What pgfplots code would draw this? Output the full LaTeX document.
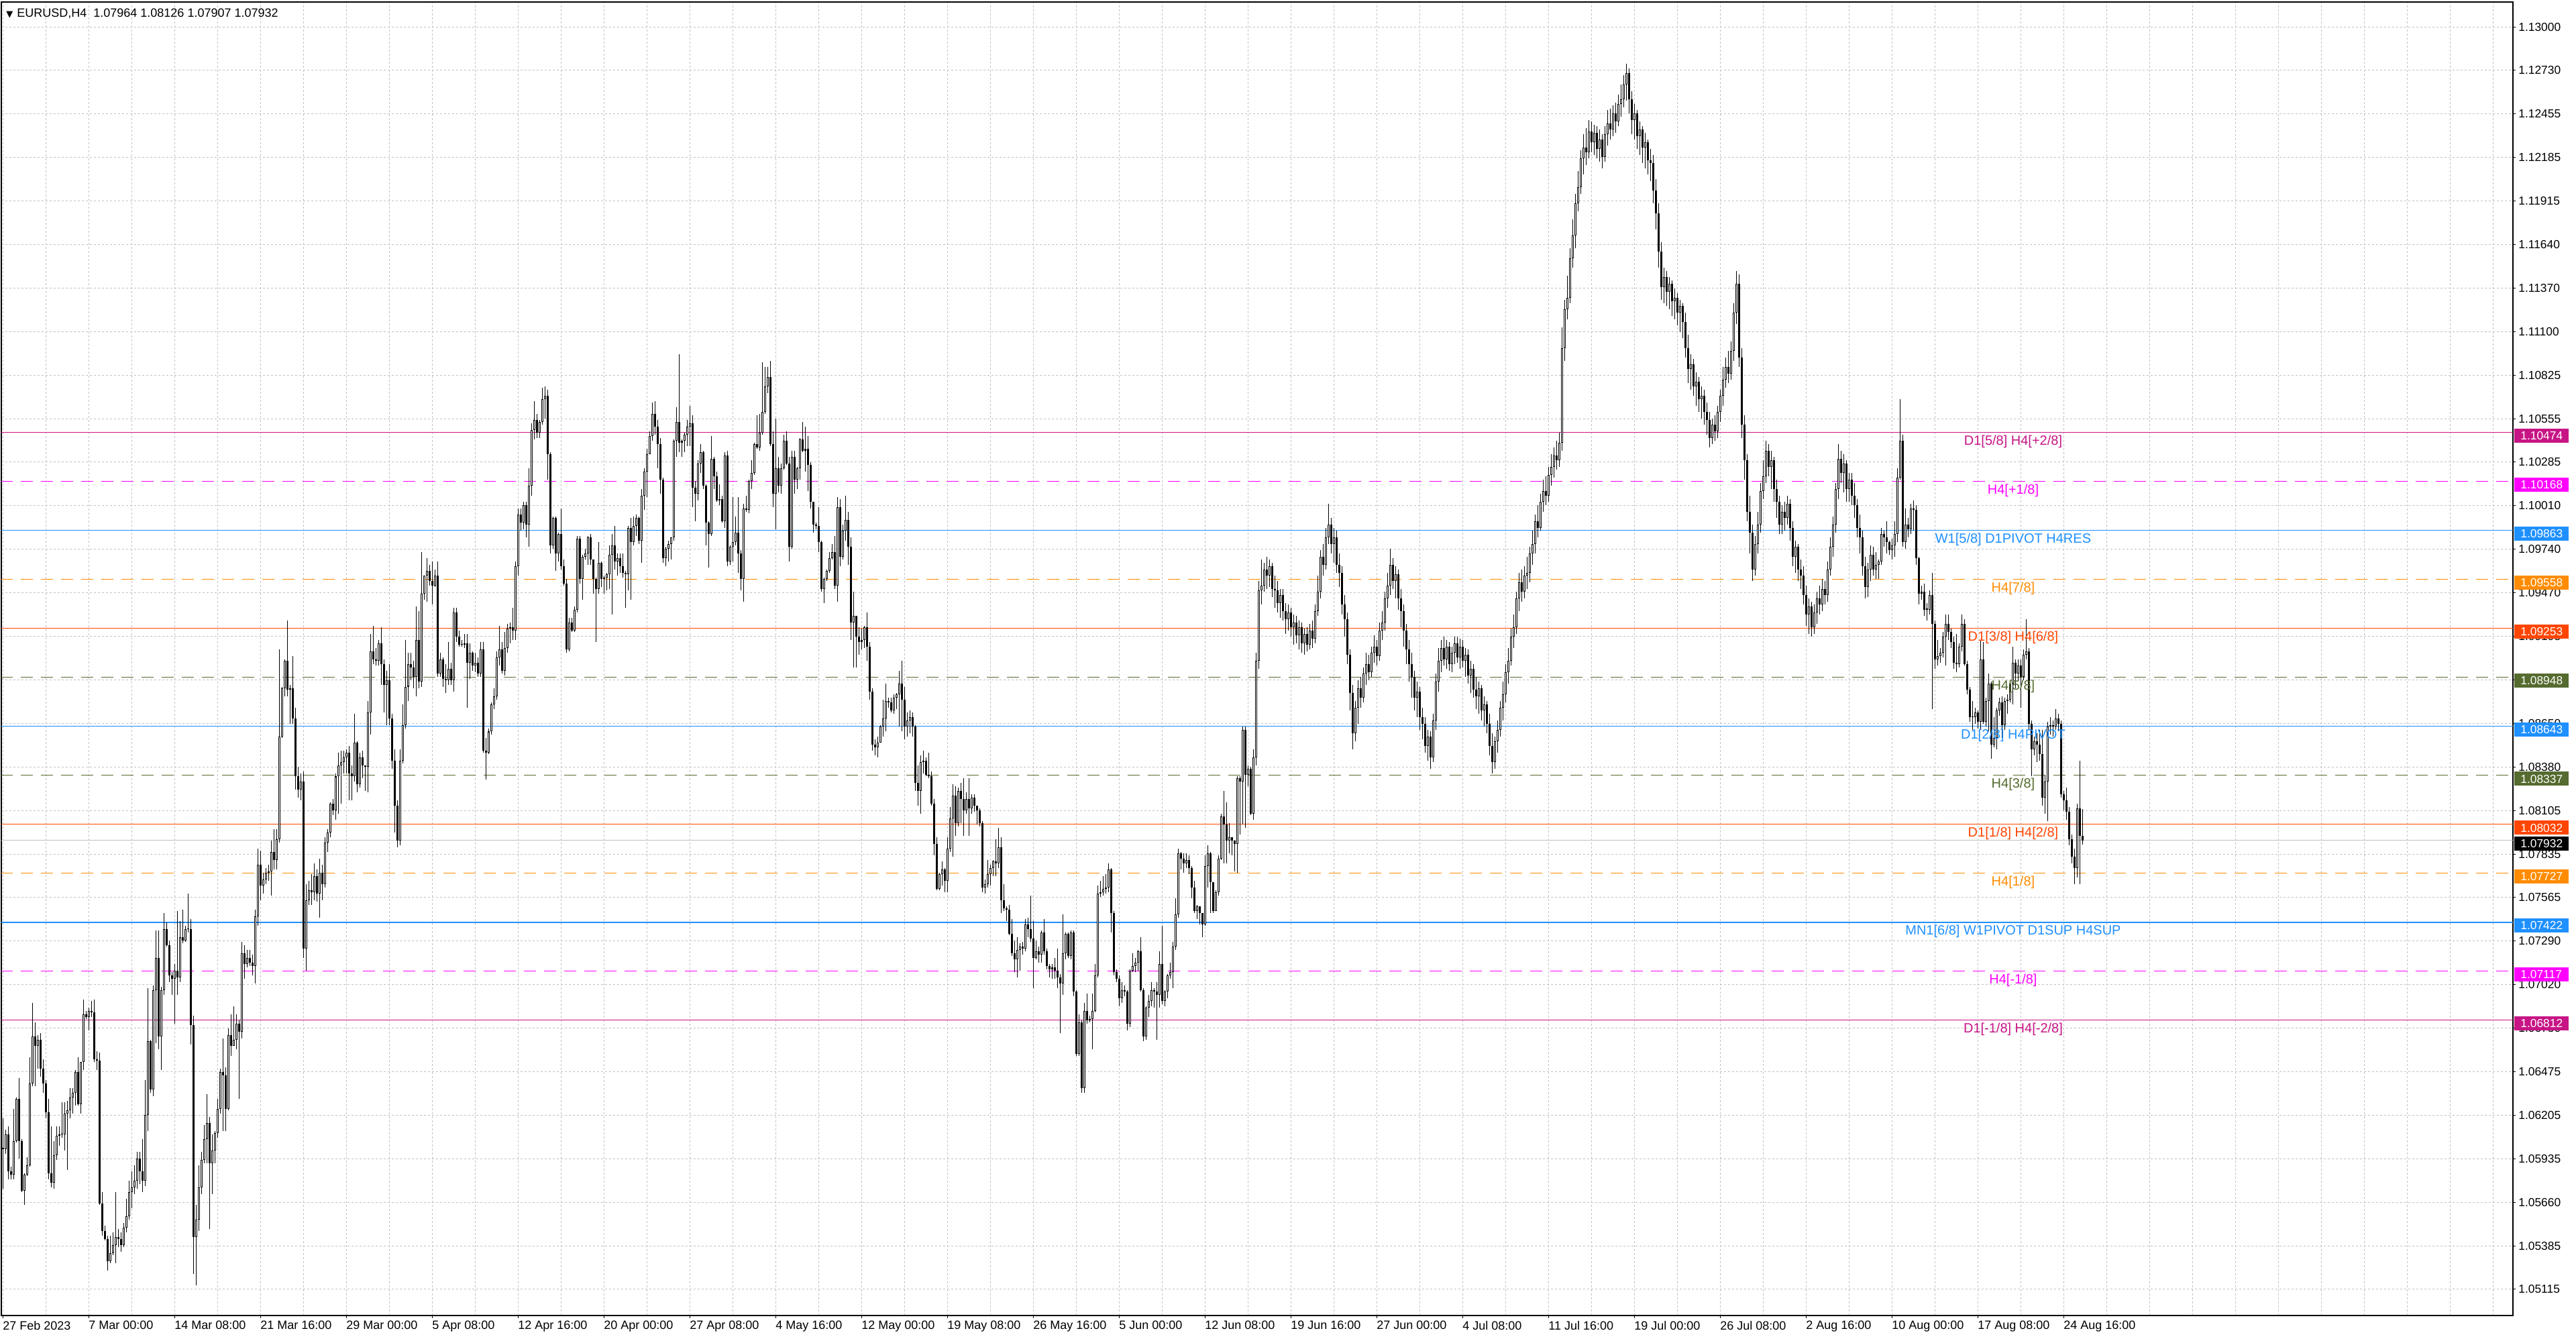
\documentclass[border=0pt]{standalone}
\usepackage{pgfplots}
\usepackage{pgfplotstable}
\pgfplotsset{compat=1.18}
\usepackage{fontspec}
\setmainfont{Liberation Sans}
\newfontfamily\dejavu{DejaVu Sans}
\definecolor{mvr}{HTML}{C71585}
\definecolor{mag}{HTML}{FF00FF}
\definecolor{dblue}{HTML}{1E90FF}
\definecolor{dorange}{HTML}{FF8C00}
\definecolor{ored}{HTML}{FF4500}
\definecolor{olivec}{HTML}{556B2F}
\definecolor{gridc}{HTML}{C0C0C0}
% prices in pips above 1.0000 (e.g. 793.2 = 1.07932); open = previous close
\pgfplotstableread{
c h l
601 620 576
610 613 598
587 615 582
585 590 582
606 626 582
632 633 605
606 645 595
575 607 574
585 586 566
591 596 584
642 658 590
671 692 640
665 680 640
669 672 651
651 673 646
642 657 636
624 644 620
586 632 582
580 615 577
597 606 576
609 615 594
610 615 603
610 630 608
623 630 600
625 631 588
633 639 620
636 639 623
649 650 628
629 658 628
655 655 623
685 694 650
683 687 682
687 689 675
686 693 683
657 694 655
656 662 650
567 661 566
550 574 547
545 553 544
531 547 525
536 547 530
541 549 535
546 574 530
545 551 540
541 549 537
552 555 540
559 570 549
574 581 557
577 587 564
581 591 573
595 599 576
587 599 579
581 607 574
622 644 578
668 701 612
638 669 636
700 703 634
720 737 667
671 737 663
700 702 650
738 748 697
728 742 727
709 731 705
707 711 697
712 716 679
708 749 697
733 743 705
731 750 729
738 740 730
738 760 736
678 744 666
546 684 523
557 566 516
577 591 550
594 599 573
607 616 592
617 635 592
592 621 551
600 610 573
611 612 592
626 632 608
649 651 623
647 670 612
626 652 612
672 676 625
665 685 659
669 690 665
679 685 663
674 681 632
723 730 670
716 728 707
720 725 714
717 725 715
715 722 709
746 750 704
778 788 740
765 787 756
769 773 760
773 776 766
774 778 768
786 793 759
781 800 775
794 800 775
858 912 792
888 889 857
905 906 883
887 930 883
888 890 866
869 908 866
833 876 825
825 839 820
830 835 818
726 836 720
756 766 712
762 768 753
761 772 753
771 779 756
760 775 755
773 782 745
766 778 756
792 795 764
798 800 786
816 817 795
812 819 809
833 835 806
840 848 810
842 849 816
845 849 835
848 850 835
835 852 818
833 840 818
854 872 830
828 855 823
845 848 826
840 849 832
839 840 824
873 880 823
911 922 859
906 927 903
905 913 902
916 918 902
903 926 890
890 906 873
893 899 865
869 903 865
843 872 838
815 850 798
793 818 789
843 850 790
865 878 841
889 918 863
903 910 880
901 910 893
895 905 888
918 939 883
892 936 888
947 973 889
958 958 943
961 969 942
955 965 952
952 967 940
958 962 951
897 967 895
906 910 895
894 907 889
893 903 885
900 917 890
893 904 890
935 938 886
920 938 917
915 924 914
915 918 914
916 922 913
904 922 876
910 916 894
902 911 899
904 910 898
897 907 895
912 917 895
849 917 848
848 857 831
861 863 847
878 879 859
883 888 875
907 911 881
912 927 902
899 917 897
913 923 896
925 928 910
926 929 916
924 938 918
964 967 918
996 1000 958
991 1000 986
1002 1004 987
990 1004 982
1014 1025 976
1049 1053 1008
1055 1067 1043
1047 1059 1044
1054 1055 1044
1068 1075 1052
1070 1076 1056
1034 1074 1018
977 1035 972
994 995 975
972 995 961
984 985 967
964 1000 962
953 968 952
912 956 910
929 932 911
924 932 923
937 939 923
981 983 935
956 983 953
970 971 943
972 975 968
982 983 965
968 984 965
956 968 947
950 957 917
966 979 947
956 967 951
957 958 947
959 960 949
971 977 950
977 984 934
967 989 962
969 972 958
964 972 960
960 972 957
959 961 938
988 989 949
979 994 943
989 995 977
994 996 983
980 995 978
1008 1012 966
1023 1025 999
1034 1037 1007
1045 1048 1034
1059 1066 1042
1051 1067 1046
1040 1055 1025
1018 1044 1009
969 1019 966
975 976 964
978 980 967
982 982 968
1042 1043 980
1054 1063 1032
1041 1096 1035
1042 1043 1032
1046 1047 1035
1051 1055 1039
1053 1064 1039
1013 1058 1001
1009 1017 992
1028 1030 1005
1035 1040 1022
1014 1036 1012
991 1015 977
984 992 963
1031 1045 983
1020 1032 1012
1005 1023 1004
1006 1015 1002
992 1008 991
1033 1035 988
967 1036 964
976 977 965
979 1007 967
985 995 977
972 1007 960
956 974 949
1000 1003 942
999 1008 998
1017 1018 997
1022 1030 1012
1040 1041 1021
1038 1058 1037
1047 1059 1036
1060 1091 1046
1076 1088 1059
1082 1088 1072
1040 1092 1039
1009 1048 1001
1025 1056 987
1014 1032 1010
1025 1028 1009
1042 1046 1024
1028 1048 1027
976 1032 967
1032 1036 975
1018 1036 1009
1025 1026 1012
1043 1044 1018
1036 1054 1035
1037 1051 1023
1027 1045 1011
1004 1029 1000
990 1004 985
989 991 987
979 1001 973
950 980 948
956 957 941
961 962 955
969 973 960
973 978 968
952 983 950
1001 1007 942
970 1006 964
986 990 968
993 1008 980
976 998 965
929 982 918
933 948 901
920 933 901
917 926 909
918 925 912
926 927 913
914 935 905
886 917 881
853 888 849
851 856 846
854 858 845
864 865 854
869 881 858
880 891 861
879 882 876
874 882 873
882 884 872
884 885 875
891 899 864
881 905 861
864 889 856
868 873 858
870 874 860
864 873 858
829 865 824
824 840 815
842 846 810
843 849 835
834 845 833
833 848 832
816 836 815
791 819 784
763 795 762
772 773 762
775 780 765
768 776 761
788 795 761
807 814 786
821 828 783
804 827 796
824 826 802
819 829 804
812 832 796
819 823 810
813 832 796
820 822 810
815 822 811
812 814 803
804 813 802
764 805 761
766 769 760
772 781 764
776 778 765
780 781 771
779 794 771
789 801 776
756 795 748
751 766 749
750 752 743
735 753 734
723 744 721
719 731 711
725 733 708
727 729 712
726 730 722
741 744 724
738 745 733
732 759 730
720 743 701
724 731 719
722 727 717
736 737 717
724 744 722
715 726 713
713 716 708
714 716 707
712 720 707
708 726 701
704 710 673
723 747 697
735 736 719
721 736 720
736 737 719
699 737 696
660 700 659
680 685 659
639 681 636
687 692 636
681 698 679
682 684 680
687 698 663
709 716 686
760 765 708
761 768 758
763 771 759
764 772 760
775 779 761
748 776 736
711 749 709
707 713 705
695 709 690
700 705 692
699 703 696
679 700 675
712 713 677
715 723 711
717 720 711
724 725 712
700 733 699
671 701 668
689 690 669
693 697 683
700 705 690
699 701 689
697 705 669
716 724 689
693 740 691
699 700 690
709 710 695
711 717 707
727 730 701
747 757 725
785 788 745
782 786 775
779 785 773
781 785 776
776 784 772
764 777 757
749 768 748
752 753 744
748 752 741
741 748 733
777 784 740
785 790 764
767 786 748
749 760 748
761 762 753
782 784 759
808 810 781
803 824 779
793 817 779
795 804 785
793 795 784
791 793 774
832 833 773
830 833 797
862 864 803
834 864 801
838 840 827
810 839 809
845 850 806
905 910 840
949 955 900
952 968 940
962 966 948
958 970 950
964 968 951
950 966 945
949 958 938
941 955 935
946 950 932
936 950 930
931 941 922
935 940 924
926 938 920
929 934 915
921 933 916
926 930 912
916 929 910
922 925 909
915 926 911
924 928 912
919 930 913
936 940 916
948 958 933
970 974 944
965 978 958
982 988 962
990 1003 978
978 994 972
982 988 966
965 986 960
960 972 951
940 964 934
931 946 920
909 935 903
885 912 874
860 890 850
876 880 855
888 893 866
882 895 876
897 901 879
903 910 890
898 909 893
910 914 895
914 921 904
908 918 902
924 929 905
929 936 918
944 948 924
952 960 938
965 975 946
955 969 950
959 964 944
944 962 937
936 950 926
924 940 914
912 928 903
903 918 892
895 910 882
882 899 874
886 892 870
870 889 862
866 876 856
852 870 848
858 862 843
845 861 838
868 872 842
892 897 862
905 913 886
913 918 898
906 920 902
914 918 900
903 917 899
910 914 898
916 920 903
907 920 904
914 919 900
905 918 901
909 913 895
896 912 891
900 905 885
887 903 882
883 895 875
888 892 872
874 890 868
878 883 864
866 880 860
852 872 846
842 860 835
855 858 838
862 868 848
876 880 858
884 892 868
898 903 879
905 913 891
920 925 902
926 934 913
944 948 922
954 960 936
948 962 942
958 964 944
960 970 950
972 976 954
978 986 965
992 996 972
988 1002 982
1004 1009 986
1011 1018 998
1008 1020 1002
1021 1026 1004
1026 1034 1014
1033 1038 1019
1030 1042 1024
1041 1047 1026
1100 1113 1036
1124 1130 1092
1131 1145 1118
1156 1162 1128
1170 1180 1150
1190 1196 1162
1200 1210 1185
1218 1223 1196
1225 1233 1208
1222 1237 1214
1235 1242 1218
1228 1241 1222
1234 1239 1220
1224 1238 1218
1230 1236 1216
1219 1233 1212
1233 1238 1216
1240 1248 1226
1236 1249 1230
1246 1251 1232
1241 1253 1234
1252 1258 1238
1255 1264 1244
1264 1270 1250
1271 1277 1254
1255 1274 1246
1242 1260 1233
1246 1252 1230
1232 1248 1224
1236 1241 1220
1225 1238 1215
1228 1234 1212
1217 1230 1208
1215 1224 1204
1198 1220 1190
1184 1205 1174
1160 1190 1150
1138 1166 1130
1144 1150 1128
1135 1148 1126
1140 1144 1124
1129 1142 1120
1131 1137 1118
1122 1134 1114
1126 1130 1110
1116 1128 1106
1100 1122 1094
1087 1108 1078
1090 1096 1074
1076 1093 1070
1079 1085 1064
1068 1082 1060
1070 1076 1056
1060 1074 1052
1055 1066 1046
1044 1060 1038
1052 1056 1040
1048 1058 1042
1060 1064 1044
1070 1074 1054
1080 1088 1064
1088 1094 1075
1084 1098 1078
1098 1104 1080
1122 1128 1092
1140 1148 1115
1094 1146 1088
1052 1100 1044
1030 1058 1018
998 1034 992
985 1008 972
962 990 955
978 983 958
990 998 972
1011 1016 985
1020 1030 1006
1036 1042 1016
1026 1040 1020
1030 1036 1012
1012 1032 1004
1004 1018 994
990 1008 984
998 1002 984
994 1004 986
1003 1008 990
988 1006 980
970 992 964
976 980 960
962 978 955
958 968 950
946 964 940
934 952 927
939 944 922
926 942 920
935 940 922
944 948 928
940 952 934
950 956 936
946 955 940
962 967 942
976 982 958
990 995 970
1012 1016 985
1031 1040 1006
1022 1036 1016
1028 1034 1010
1012 1030 1004
1018 1022 1004
1008 1022 1002
1002 1016 994
988 1006 982
982 996 972
964 986 958
951 970 944
962 966 945
971 977 955
962 976 958
965 973 956
967 968 956
984 988 965
982 986 976
979 992 972
974 980 971
977 981 968
984 992 970
1019 1025 979
1042 1068 1018
979 1046 976
990 1000 975
987 994 982
1000 1003 984
999 1005 986
969 1002 965
947 970 940
948 952 943
937 953 933
937 941 930
946 949 934
928 960 875
906 930 900
908 918 902
910 913 904
920 923 907
928 934 902
923 934 918
917 925 913
904 920 900
903 922 898
914 916 901
928 934 911
903 931 902
887 905 884
870 889 867
870 880 862
873 876 866
867 874 863
906 918 862
867 917 866
880 882 864
891 897 861
853 892 844
857 870 851
874 876 850
879 882 871
865 883 857
880 882 862
881 884 872
891 892 879
904 914 878
897 906 888
902 906 892
895 906 876
909 912 893
911 931 906
866 913 862
850 868 833
855 858 846
853 860 842
847 862 843
820 862 815
830 834 810
864 867 805
865 870 859
864 868 858
869 875 862
866 872 861
822 868 820
818 824 812
811 826 806
794 814 790
783 797 779
776 788 766
813 816 770
796 843 766
793.2 812.6 790.7
}\data

% build one path per layer (wicks, bodies, hollow bull interiors) from the table
\pgfplotstablegetrowsof{\data}
\pgfmathtruncatemacro\lastrow{\pgfplotsretval-1}
\def\wicks{}\def\bodies{}\def\hollow{}
\pgfplotstablegetelem{0}{c}\of\data \let\prevc\pgfplotsretval
\pgfplotsforeachungrouped \i in {0,...,\lastrow}{%
  \pgfplotstablegetelem{\i}{c}\of\data \let\cc\pgfplotsretval
  \pgfplotstablegetelem{\i}{h}\of\data \let\hh\pgfplotsretval
  \pgfplotstablegetelem{\i}{l}\of\data \let\ll\pgfplotsretval
  \edef\wicks{\wicks (\i,\ll) (\i,\hh) (\i,nan)}%
  \pgfmathsetmacro\blo{min(\prevc,\cc)}%
  \pgfmathsetmacro\bhi{max(max(\prevc,\cc),\blo+0.5)}%
  \edef\bodies{\bodies (\i,\blo) (\i,\bhi) (\i,nan)}%
  \pgfmathtruncatemacro\isbull{\cc>\prevc+1.2}%
  \ifnum\isbull=1
    \pgfmathsetmacro\hlo{\prevc+0.42}%
    \pgfmathsetmacro\hhi{\cc-0.42}%
    \edef\hollow{\hollow (\i,\hlo) (\i,\hhi) (\i,nan)}%
  \fi
  \let\prevc\cc
}

\begin{document}
\begin{tikzpicture}
\path[use as bounding box] (-1pt,-17.5pt) rectangle (1919pt,980.5pt);
\fill[white] (-1pt,-17.5pt) rectangle (1919pt,980.5pt);
\begin{axis}[
  at={(0,0)}, anchor=south west,
  scale only axis, width=1872pt, height=979pt,
  xmin=-0.75, xmax=935.25, ymin=497.2, ymax=1315.5,
  axis line style={black, line width=0.6pt},
  xtick={0,32,...,768},
  xticklabels={27 Feb 2023,7 Mar 00:00,14 Mar 08:00,21 Mar 16:00,29 Mar 00:00,5 Apr 08:00,12 Apr 16:00,20 Apr 00:00,27 Apr 08:00,4 May 16:00,12 May 00:00,19 May 08:00,26 May 16:00,5 Jun 00:00,12 Jun 08:00,19 Jun 16:00,27 Jun 00:00,4 Jul 08:00,11 Jul 16:00,19 Jul 00:00,26 Jul 08:00,2 Aug 16:00,10 Aug 00:00,17 Aug 08:00,24 Aug 16:00},
  minor xtick={0,16,...,928},
  ytick={513.52,540.64,567.76,594.88,622,649.12,676.24,703.36,730.48,757.6,784.72,811.84,838.96,866.08,893.2,920.32,947.44,974.56,1001.68,1028.8,1055.92,1083.04,1110.16,1137.28,1164.4,1191.52,1218.64,1245.76,1272.88,1300},
  yticklabels={1.05115,1.05385,1.05660,1.05935,1.06205,1.06475,1.06750,1.07020,1.07290,1.07565,1.07835,1.08105,1.08380,1.08650,1.08920,1.09195,1.09470,1.09740,1.10010,1.10285,1.10555,1.10825,1.11100,1.11370,1.11640,1.11915,1.12185,1.12455,1.12730,1.13000},
  xtick pos=left, ytick pos=right, yticklabel pos=right,
  tick align=outside, major tick length=2pt, minor tick length=0pt,
  tick style={black, line width=0.5pt},
  xmajorgrids, xminorgrids, ymajorgrids,
  grid style={gridc, dash pattern=on 1.5pt off 1.5pt, line width=0.5pt},
  minor grid style={gridc, dash pattern=on 1.5pt off 1.5pt, line width=0.5pt},
  xticklabel style={font=\fontsize{9}{10}\selectfont, anchor=north west, inner sep=0pt, xshift=-0.5pt, yshift=-2pt},
  yticklabel style={font=\fontsize{8.7}{10}\selectfont, anchor=west, inner sep=0pt, xshift=2pt},
  unbounded coords=jump,
]
% level lines
\addplot[mvr, line width=0.6pt, forget plot] coordinates {(-1,1047.4) (936,1047.4)};
\addplot[mag, line width=0.6pt, dash pattern=on 9pt off 6pt, forget plot] coordinates {(-1,1016.8) (936,1016.8)};
\addplot[dblue, line width=0.5pt, forget plot] coordinates {(-1,986.3) (936,986.3)};
\addplot[dorange, line width=0.6pt, dash pattern=on 9pt off 6pt, forget plot] coordinates {(-1,955.8) (936,955.8)};
\addplot[ored, line width=0.6pt, forget plot] coordinates {(-1,925.3) (936,925.3)};
\addplot[olivec, line width=0.6pt, dash pattern=on 9pt off 6pt, forget plot] coordinates {(-1,894.8) (936,894.8)};
\addplot[dblue, line width=0.6pt, forget plot] coordinates {(-1,864.3) (936,864.3)};
\addplot[olivec, line width=0.6pt, dash pattern=on 9pt off 6pt, forget plot] coordinates {(-1,833.7) (936,833.7)};
\addplot[ored, line width=0.6pt, forget plot] coordinates {(-1,803.2) (936,803.2)};
\addplot[gridc, line width=0.6pt, forget plot] coordinates {(-1,793.2) (936,793.2)};
\addplot[dorange, line width=0.6pt, dash pattern=on 9pt off 6pt, forget plot] coordinates {(-1,772.7) (936,772.7)};
\addplot[dblue, line width=1.1pt, forget plot] coordinates {(-1,742.2) (936,742.2)};
\addplot[mag, line width=0.6pt, dash pattern=on 9pt off 6pt, forget plot] coordinates {(-1,711.7) (936,711.7)};
\addplot[mvr, line width=0.6pt, forget plot] coordinates {(-1,681.2) (936,681.2)};
% candles
\edef\tmp{\noexpand\addplot[black, line width=0.5pt, mark=none, forget plot] coordinates {\wicks};}\tmp
\edef\tmp{\noexpand\addplot[black, line width=1.5pt, mark=none, forget plot] coordinates {\bodies};}\tmp
\edef\tmp{\noexpand\addplot[white, line width=0.5pt, mark=none, forget plot] coordinates {\hollow};}\tmp
% level texts
\begin{scope}[every node/.style={anchor=north, inner sep=0pt, font=\fontsize{10}{12}\selectfont, yshift=-2pt}]
\node[text=mvr] at (axis cs:749,1047.4) {D1[5/8] H4[+2/8]};
\node[text=mag] at (axis cs:749,1016.8) {H4[+1/8]};
\node[text=dblue] at (axis cs:749,986.3) {W1[5/8] D1PIVOT H4RES};
\node[text=dorange] at (axis cs:749,955.8) {H4[7/8]};
\node[text=ored] at (axis cs:749,925.3) {D1[3/8] H4[6/8]};
\node[text=olivec] at (axis cs:749,894.8) {H4[5/8]};
\node[text=dblue] at (axis cs:749,864.3) {D1[2/8] H4PIVOT};
\node[text=olivec] at (axis cs:749,833.7) {H4[3/8]};
\node[text=ored] at (axis cs:749,803.2) {D1[1/8] H4[2/8]};
\node[text=dorange] at (axis cs:749,772.7) {H4[1/8]};
\node[text=dblue] at (axis cs:749,742.2) {MN1[6/8] W1PIVOT D1SUP H4SUP};
\node[text=mag] at (axis cs:749,711.7) {H4[-1/8]};
\node[text=mvr] at (axis cs:749,681.2) {D1[-1/8] H4[-2/8]};
\end{scope}
\node[anchor=west, inner sep=0pt, font=\fontsize{9}{10}\selectfont] at (rel axis cs:0,1) [xshift=3.5pt, yshift=-8.5pt] {{\dejavu\fontsize{6.5}{7}\selectfont ▼}\hspace{3pt}EURUSD,H4\ \ 1.07964 1.08126 1.07907 1.07932};
\coordinate (R1) at (axis cs:935.25,1047.4);
\coordinate (R2) at (axis cs:935.25,1016.8);
\coordinate (R3) at (axis cs:935.25,986.3);
\coordinate (R4) at (axis cs:935.25,955.8);
\coordinate (R5) at (axis cs:935.25,925.3);
\coordinate (R6) at (axis cs:935.25,894.8);
\coordinate (R7) at (axis cs:935.25,864.3);
\coordinate (R8) at (axis cs:935.25,833.7);
\coordinate (R9) at (axis cs:935.25,803.2);
\coordinate (R10) at (axis cs:935.25,793.2);
\coordinate (R11) at (axis cs:935.25,772.7);
\coordinate (R12) at (axis cs:935.25,742.2);
\coordinate (R13) at (axis cs:935.25,711.7);
\coordinate (R14) at (axis cs:935.25,681.2);
\end{axis}
\begin{scope}[every node/.style={anchor=west, xshift=1pt, yshift=-2.5pt, inner xsep=4.5pt, inner ysep=0pt, text width=31.5pt, minimum height=10.5pt, text height=6.2pt, text depth=0pt, text=white, font=\fontsize{8.7}{10}\selectfont}]
\node[fill=mvr] at (R1) {1.10474};
\node[fill=mag] at (R2) {1.10168};
\node[fill=dblue] at (R3) {1.09863};
\node[fill=dorange] at (R4) {1.09558};
\node[fill=ored] at (R5) {1.09253};
\node[fill=olivec] at (R6) {1.08948};
\node[fill=dblue] at (R7) {1.08643};
\node[fill=olivec] at (R8) {1.08337};
\node[fill=ored] at (R9) {1.08032};
\node[fill=black] at (R10) {1.07932};
\node[fill=dorange] at (R11) {1.07727};
\node[fill=dblue] at (R12) {1.07422};
\node[fill=mag] at (R13) {1.07117};
\node[fill=mvr] at (R14) {1.06812};
\end{scope}
\end{tikzpicture}
\end{document}
